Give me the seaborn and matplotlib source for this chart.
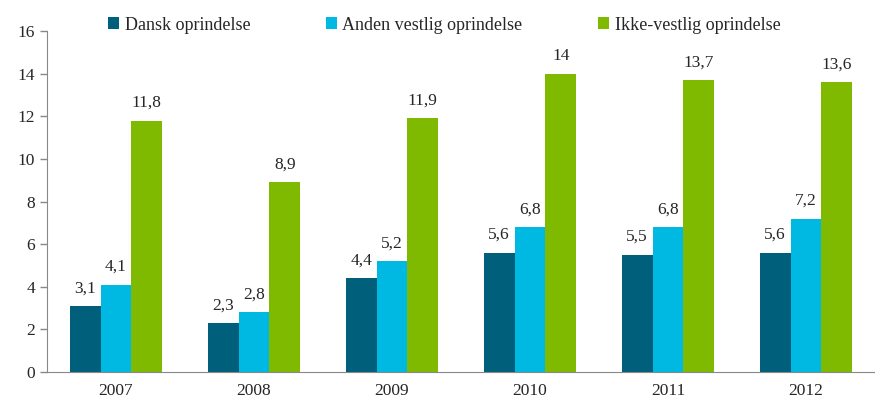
import pandas as pd
import matplotlib.pyplot as plt
import seaborn as sns

years = ['2007', '2008', '2009', '2010', '2011', '2012']
dansk = [3.1, 2.3, 4.4, 5.6, 5.5, 5.6]
anden_vestlig = [4.1, 2.8, 5.2, 6.8, 6.8, 7.2]
ikke_vestlig = [11.8, 8.9, 11.9, 14.0, 13.7, 13.6]
groups = ['Dansk oprindelse', 'Anden vestlig oprindelse', 'Ikke-vestlig oprindelse']
colors = ['#005F7A', '#00B9E2', '#7FBA00']

df = pd.DataFrame({
    'year': years * 3,
    'value': dansk + anden_vestlig + ikke_vestlig,
    'group': [g for g in groups for _ in years],
})

sns.set_style('white')
plt.rcParams['font.family'] = ['Liberation Serif', 'DejaVu Serif']

fig = plt.figure(figsize=(8.75, 4.01), dpi=100)
ax = fig.add_axes([0.0537, 0.0723, 0.9463, 0.8504])

sns.barplot(data=df, x='year', y='value', hue='group', palette=colors,
            width=0.67, saturation=1, linewidth=0, ax=ax)

def fmt(v):
    s = f'{v:.1f}'.replace('.', ',')
    return s[:-2] if s.endswith(',0') else s

for cont in ax.containers:
    ax.bar_label(cont, labels=[fmt(b.get_height()) for b in cont], padding=7, fontsize=12.5)

ax.set_ylim(0, 16)
ax.set_yticks(range(0, 17, 2))
ax.set_xlim(-0.5, 5.5)
ax.set_xlabel('')
ax.set_ylabel('')
ax.set_xticks(range(6))
ax.set_xticklabels(years)
ax.set_xticks([i + 0.5 for i in range(-1, 6)], minor=True)
ax.tick_params(axis='x', which='major', length=0, labelsize=12.5, pad=8)
ax.tick_params(axis='x', which='minor', length=5, color='#888888', width=1)
ax.tick_params(axis='y', length=5, color='#888888', width=1, labelsize=12.5, direction='out', left=True)
for s in ['top', 'right']:
    ax.spines[s].set_visible(False)
for s in ['left', 'bottom']:
    ax.spines[s].set_color('#888888')

leg = ax.legend(loc='upper center', bbox_to_anchor=(0.48, 1.09), ncol=3, frameon=False,
                fontsize=13, handlelength=0.6, handleheight=0.6, handletextpad=0.3,
                columnspacing=4.2)

fig.savefig('out.png', dpi=100)
